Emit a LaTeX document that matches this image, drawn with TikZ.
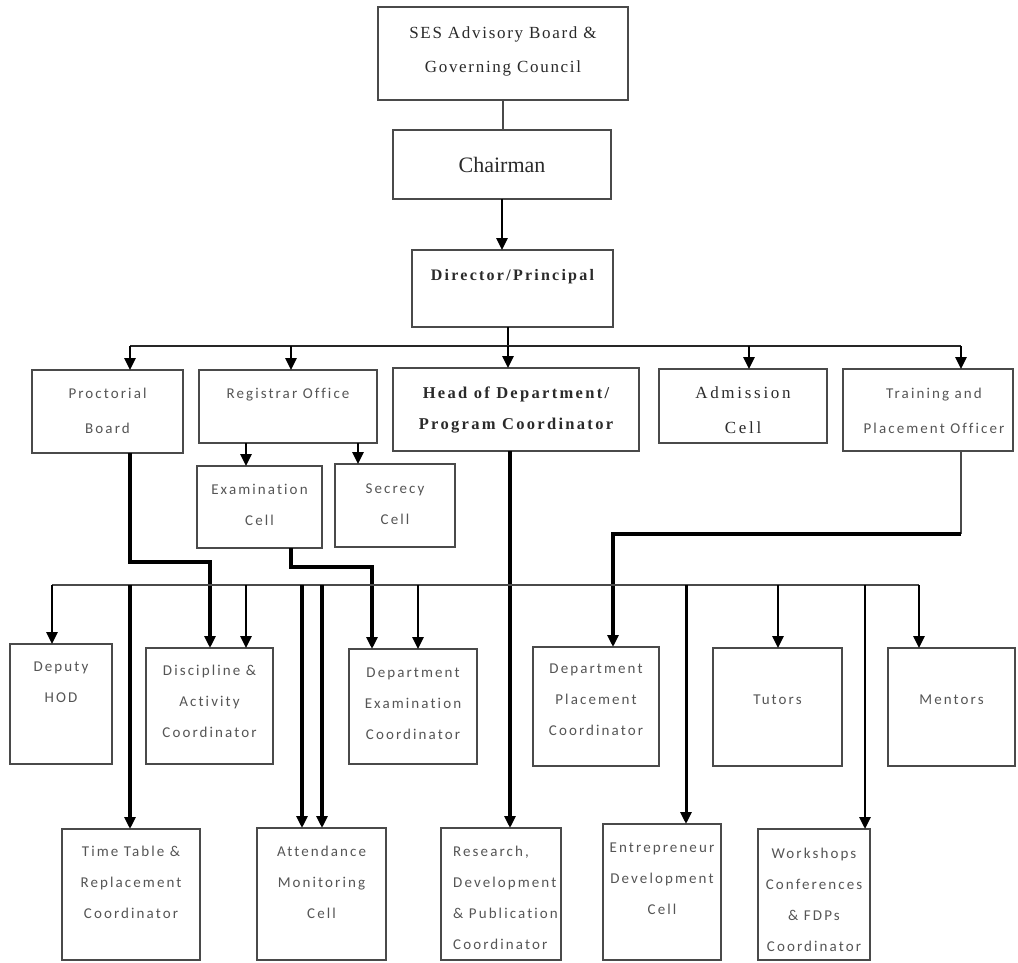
\documentclass[tikz,border=0pt]{standalone}
\usepackage{fontspec}
\setmainfont{Liberation Serif}
\newfontfamily\sesfont[LetterSpace=10]{Liberation Serif}
\newfontfamily\admfont[LetterSpace=16]{Liberation Serif}
\newfontfamily\bfsp[LetterSpace=14]{Liberation Serif}
\newfontfamily\sansp[LetterSpace=14,Ligatures=CommonOff]{Carlito}
\usetikzlibrary{arrows.meta}
\definecolor{boxc}{HTML}{4A4A4A}
\definecolor{txtc}{HTML}{555555}
\definecolor{serc}{HTML}{2A2A2A}
\begin{document}
\begin{tikzpicture}[x=1pt,y=-1pt,
  box/.style={draw=boxc, line width=1.8pt, fill=white, inner sep=0pt, outer sep=0pt},
  stxt/.style={anchor=north, inner sep=0pt, align=center, text=txtc, font=\sansp\fontsize{15}{31}\selectfont},
  stxtw/.style={stxt, font=\sansp\fontsize{15}{35}\selectfont},
  sertxt/.style={anchor=north, inner sep=0pt, align=center, text=serc},
  tip/.style={-{Triangle[length=12pt,width=11pt]}},
  arr/.style={tip, line width=2.6pt, draw=black},
  heavy/.style={line width=3.4pt, draw=black},
  conn/.style={line width=2.4pt, draw=boxc},
  busT/.style={line width=2.2pt, draw=black!85},
  lbus/.style={line width=2pt, draw=boxc}]
\useasboundingbox (0,0) rectangle (1018,963);

% ---- boxes ----
\node[box, minimum width=250, minimum height=93] (ses) at (503,53.5) {};
\node[box, minimum width=218, minimum height=69, text=serc, font=\fontsize{22}{24}\selectfont] (chair) at (502,164.5) {Chairman};
\node[box, minimum width=201, minimum height=77] (dir) at (512.5,288.5) {};
\node[box, minimum width=151, minimum height=83] (proc) at (107.5,411.5) {};
\node[box, minimum width=178, minimum height=73] (reg) at (288,406.5) {};
\node[box, minimum width=246, minimum height=83] (hod) at (516,409.5) {};
\node[box, minimum width=168, minimum height=74] (adm) at (743,406) {};
\node[box, minimum width=170, minimum height=82] (tpo) at (928,410) {};
\node[box, minimum width=125, minimum height=82] (exam) at (259.5,507) {};
\node[box, minimum width=120, minimum height=83] (sec) at (395,505.5) {};
\node[box, minimum width=102, minimum height=120] (dhod) at (61,704) {};
\node[box, minimum width=127, minimum height=116] (disc) at (209.5,706) {};
\node[box, minimum width=128, minimum height=115] (dexam) at (413,706.5) {};
\node[box, minimum width=126, minimum height=119] (dplac) at (596,706.5) {};
\node[box, minimum width=129, minimum height=118] (tut) at (777.5,707) {};
\node[box, minimum width=127, minimum height=118] (ment) at (951.5,707) {};
\node[box, minimum width=138, minimum height=131] (tt) at (131,894.5) {};
\node[box, minimum width=129, minimum height=132] (att) at (321.5,894) {};
\node[box, minimum width=120, minimum height=132] (res) at (501,894) {};
\node[box, minimum width=118, minimum height=136] (ent) at (662,892) {};
\node[box, minimum width=112, minimum height=131] (ws) at (814,894.5) {};

% ---- texts ----
\node[sertxt, font=\sesfont\fontsize{17}{34}\selectfont] at ([yshift=-19.5pt]ses.north) {SES Advisory Board \&\\Governing Council};
\node[sertxt, font=\bfsp\bfseries\fontsize{16}{30}\selectfont] at ([yshift=-19pt]dir.north) {Director/Principal};
\node[sertxt, font=\bfsp\bfseries\fontsize{16.5}{30.5}\selectfont] at ([yshift=-19pt]hod.north) {Head of Department/\\Program Coordinator};
\node[sertxt, font=\admfont\fontsize{17}{35}\selectfont] at ([yshift=-18pt]adm.north) {Admission\\Cell};
\node[stxtw] at ([yshift=-17.5pt]proc.north) {Proctorial\\Board};
\node[stxt] at ([yshift=-17.5pt]reg.north) {Registrar Office};
\node[stxtw] at ([xshift=6pt,yshift=-18.5pt]tpo.north) {Training and\\Placement Officer};
\node[stxt] at ([yshift=-17.5pt]exam.north) {Examination\\Cell};
\node[stxt] at ([yshift=-19.5pt]sec.north) {Secrecy\\Cell};
\node[stxt] at ([yshift=-17.5pt]dhod.north) {Deputy\\HOD};
\node[stxt] at ([yshift=-16.5pt]disc.north) {Discipline \&\\Activity\\Coordinator};
\node[stxt] at ([yshift=-18.5pt]dexam.north) {Department\\Examination\\Coordinator};
\node[stxt] at ([yshift=-16.5pt]dplac.north) {Department\\Placement\\Coordinator};
\node[stxt] at ([yshift=-46.5pt]tut.north) {Tutors};
\node[stxt] at ([yshift=-46.5pt]ment.north) {Mentors};
\node[stxt] at ([yshift=-16.5pt]tt.north) {Time Table \&\\Replacement\\Coordinator};
\node[stxt] at ([yshift=-17.5pt]att.north) {Attendance\\Monitoring\\Cell};
\node[stxt, anchor=north west, align=left] at ([xshift=12pt,yshift=-17.5pt]res.north west) {Research,\\Development\\\& Publication\\Coordinator};
\node[stxt] at ([yshift=-18.5pt]ent.north) {Entrepreneur\\Development\\Cell};
\node[stxt] at ([yshift=-18.5pt]ws.north) {Workshops\\Conferences\\\& FDPs\\Coordinator};

% ---- top connectors ----
\draw[conn] (ses.south) -- (ses.south |- chair.north);
\draw[arr] (chair.south) -- (chair.south |- dir.north);
\coordinate (t1) at (130,346);
\coordinate (t2) at (291,346);
\coordinate (t3) at (508,346);
\coordinate (t4) at (749,346);
\coordinate (t5) at (961,346);
\draw[conn, draw=black] (t3 |- dir.south) -- (t3);
\draw[busT] (t1) -- (t5);
\foreach \c/\n in {t1/proc,t2/reg,t3/hod,t4/adm,t5/tpo}
  \draw[arr] (\c) -- (\c |- \n.north);

% ---- registrar office ----
\coordinate (r1) at (246,455);
\coordinate (r2) at (358,455);
\draw[arr] (r1 |- reg.south) -- (r1 |- exam.north);
\draw[arr] (r2 |- reg.south) -- (r2 |- sec.north);

% ---- routed connectors ----
\coordinate (p1) at (130,562);
\coordinate (p2) at (210,562);
\draw[heavy, tip] (p1 |- proc.south) -- (p1) -- (p2) -- (p2 |- disc.north);
\coordinate (e1) at (291,567);
\coordinate (e2) at (372,567);
\draw[heavy, tip] (e1 |- exam.south) -- (e1) -- (e2) -- (e2 |- dexam.north);
\coordinate (h1) at (510,500);
\draw[heavy, tip] (h1 |- hod.south) -- (h1 |- res.north);
\coordinate (q1) at (961,534);
\coordinate (q2) at (613,534);
\draw[lbus] (q1 |- tpo.south) -- (q1);
\draw[heavy, tip] (q1) -- (q2) -- (q2 |- dplac.north);

% ---- lower bus ----
\coordinate (b1) at (52,585);
\coordinate (b2) at (246,585);
\coordinate (b3) at (418,585);
\coordinate (b4) at (778,585);
\coordinate (b5) at (919,585);
\draw[lbus] (b1) -- (b5);
\foreach \c/\n in {b1/dhod,b2/disc,b3/dexam,b4/tut,b5/ment}
  \draw[arr] (\c) -- (\c |- \n.north);
\coordinate (d1) at (130,585);
\coordinate (d2) at (302,585);
\coordinate (d3) at (322,585);
\coordinate (d4) at (686,585);
\coordinate (d5) at (865,585);
\draw[heavy, tip] (d1) -- (d1 |- tt.north);
\draw[heavy, tip] (d2) -- (d2 |- att.north);
\draw[heavy, tip] (d3) -- (d3 |- att.north);
\draw[arr, line width=3pt] (d4) -- (d4 |- ent.north);
\draw[arr, line width=2.8pt] (d5) -- (d5 |- ws.north);
\end{tikzpicture}
\end{document}
